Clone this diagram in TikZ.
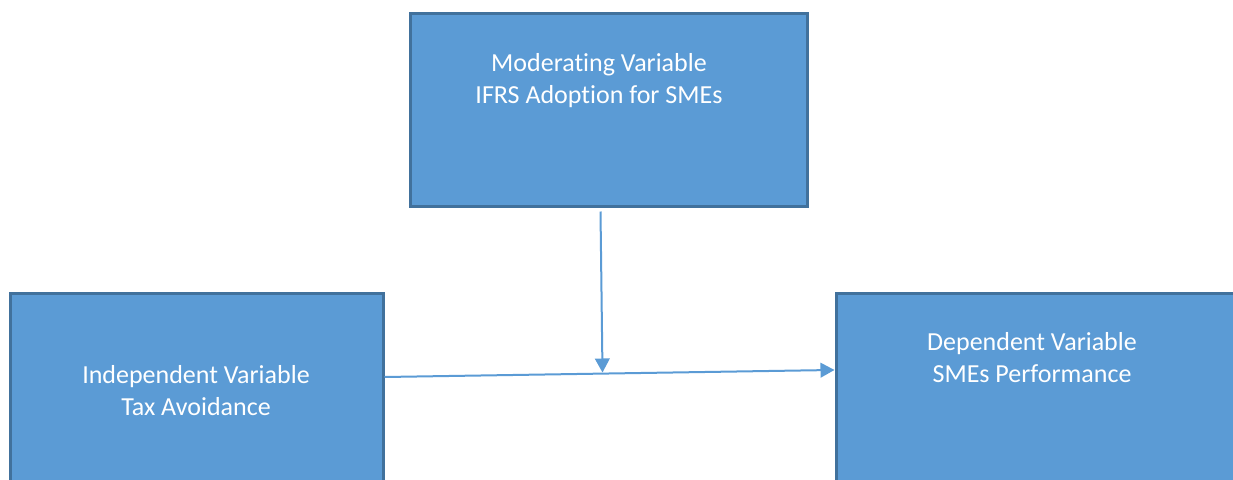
\documentclass[tikz,border=0pt]{standalone}
\usepackage{fontspec}
\setmainfont{Carlito}[Ligatures=NoCommon]
\usetikzlibrary{arrows.meta,positioning}
\definecolor{boxfill}{HTML}{5B9BD5}
\definecolor{boxline}{HTML}{41719C}

\tikzset{
  varbox/.style={draw=boxline,fill=boxfill,line width=2.25pt,inner sep=0pt},
  vartext/.style={text=white,align=center,inner sep=0pt,
    font=\fontsize{19.5}{24}\selectfont},
  link/.style={draw=boxfill,line width=1.5pt,
    -{Triangle[length=10.5pt,width=11pt]}}
}

\begin{document}
\begin{tikzpicture}[x=0.75pt,y=-0.75pt]
\useasboundingbox (0,0) rectangle (1233,479);
\clip (0,0) rectangle (1233,479);

% Boxes
\node[varbox,minimum width=297.75pt,minimum height=144.75pt] (mod) at (608.5,109.5) {};
\node[varbox,minimum width=279.75pt,minimum height=200.25pt] (ind) at (196.5,426.5) {};
\node[varbox,minimum width=318pt,minimum height=200.25pt] (dep) at (1048,426.5) {};

% Labels (base = last line)
\node[vartext,anchor=base] (modtxt) at (599,103) {Moderating Variable\\IFRS Adoption for SMEs};
\node[vartext,anchor=base] (indtxt) at (196,415) {Independent Variable\\Tax Avoidance};
\node[vartext,anchor=base] (deptxt) at (1032,382) {Dependent Variable\\SMEs Performance};

% Arrows
\coordinate (join) at (602.5,372.5);
\draw[link] (ind.east) ++(0,-49.5) -- ([yshift=42.4pt]dep.west);
\draw[link] (mod.south) ++(-8,4) -- (join);

\end{tikzpicture}
\end{document}
